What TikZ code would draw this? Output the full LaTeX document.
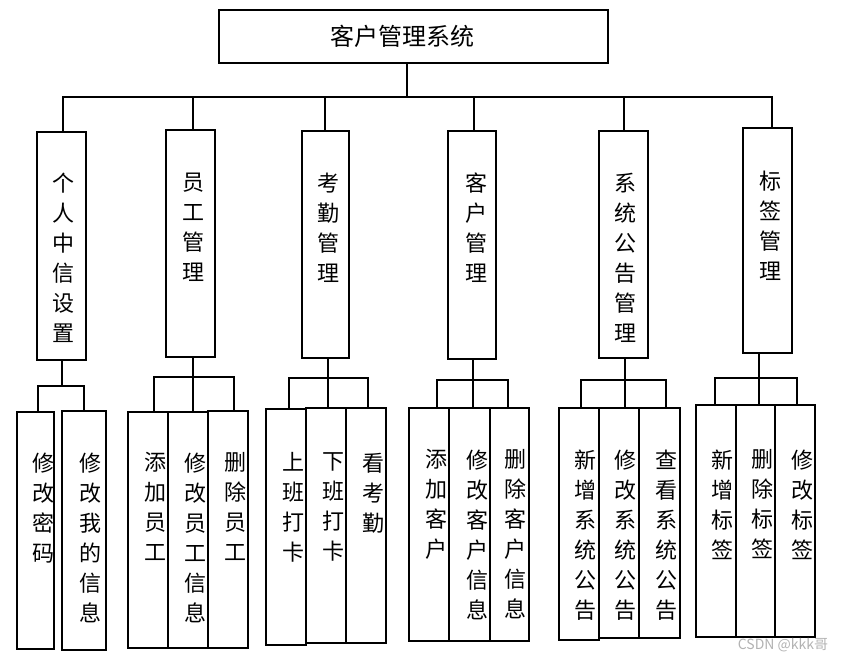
\documentclass[tikz,border=0pt]{standalone}
\usepackage{fontspec}
\setmainfont{Noto Sans CJK SC}
\usepackage{tikz}

\tikzset{
  box/.style={draw, line width=1.5, inner sep=0},
  vtext/.style={align=center, inner sep=0, anchor=north, font=\fontsize{22}{30}\selectfont},
  conn/.style={line width=1.5}
}

\begin{document}
\begin{tikzpicture}[x=1pt, y=-1pt]
\useasboundingbox (0,0) rectangle (841,661);

%root
\node[box, minimum width=389, minimum height=53, font=\fontsize{24}{24}\selectfont] (root) at (413.5, 36.5) {客户管理系统\hspace*{22pt}};
\coordinate (top) at (407, 97);

% level one
\node[box, minimum width=49, minimum height=228] (g1) at (61.5, 246) {};
\node[vtext] (t1) at (63, 172.5) {个\\人\\中\\信\\设\\置};
\node[box, minimum width=49, minimum height=227] (g2) at (190.5, 243.5) {};
\node[vtext] (t2) at (193, 172.5) {员\\工\\管\\理};
\node[box, minimum width=47, minimum height=227] (g3) at (325.5, 244.5) {};
\node[vtext] (t3) at (328, 172.5) {考\\勤\\管\\理};
\node[box, minimum width=48, minimum height=228] (g4) at (472, 245) {};
\node[vtext] (t4) at (476, 172.5) {客\\户\\管\\理};
\node[box, minimum width=49, minimum height=227] (g5) at (623.5, 244.5) {};
\node[vtext] (t5) at (625.5, 172.5) {系\\统\\公\\告\\管\\理};
\node[box, minimum width=49, minimum height=225] (g6) at (767.5, 240.5) {};
\node[vtext] (t6) at (770, 171) {标\\签\\管\\理};

% bus
\draw[conn] (root.south -| top) -- (top);
\draw[conn] ([xshift=1.5]g1.north) |- (top) -| ([xshift=4.5]g6.north);
\foreach \g/\dx in {g2/2.5, g3/-0.5, g4/2, g5/0.5}
  \draw[conn] ([xshift=\dx]\g.north) -- ([xshift=\dx]\g.north |- top);

% personal settings
\node[box, minimum width=37, minimum height=237] (k1a) at (35.5, 530.5) {};
\node[vtext] (t1a) at (43, 452.5) {修\\改\\密\\码};
\node[box, minimum width=44, minimum height=239] (k1b) at (84, 530.5) {};
\node[vtext] (t1b) at (90, 452.5) {修\\改\\我\\的\\信\\息};
\coordinate (b1) at (62, 386);
\draw[conn] (g1.south -| b1) -- (b1);
\draw[conn] ([xshift=2.5]k1a.north) |- (b1) -| (k1b.north);

% staff
\node[box, minimum width=40, minimum height=236] (k2a) at (148, 530) {};
\node[vtext] (t2a) at (155, 452.5) {添\\加\\员\\工};
\node[box, minimum width=40, minimum height=236] (k2b) at (188, 530) {};
\node[vtext] (t2b) at (195, 452.5) {修\\改\\员\\工\\信\\息};
\node[box, minimum width=40, minimum height=237] (k2c) at (228, 529.5) {};
\node[vtext] (t2c) at (235, 452.5) {删\\除\\员\\工};
\coordinate (b2) at (193, 377);
\draw[conn] (g2.south -| b2) -- (b2) -- (b2 |- k2b.north);
\draw[conn] ([xshift=6]k2a.north) |- (b2) -| ([xshift=6]k2c.north);

% attendance
\node[box, minimum width=40, minimum height=236] (k3a) at (286, 527) {};
\node[vtext] (t3a) at (293, 452.5) {上\\班\\打\\卡};
\node[box, minimum width=40, minimum height=235] (k3b) at (326, 525.5) {};
\node[vtext] (t3b) at (333, 452.5) {下\\班\\打\\卡};
\node[box, minimum width=40, minimum height=235] (k3c) at (366, 525.5) {};
\node[vtext] (t3c) at (373, 452.5) {看\\考\\勤};
\coordinate (b3) at (328, 378);
\draw[conn] (g3.south -| b3) -- (b3) -- (b3 |- k3b.north);
\draw[conn] ([xshift=3]k3a.north) |- (b3) -| ([xshift=2]k3c.north);

% customers
\node[box, minimum width=40, minimum height=233] (k4a) at (429, 524.5) {};
\node[vtext] (t4a) at (436.5, 449.5) {添\\加\\客\\户};
\node[box, minimum width=41, minimum height=233] (k4b) at (469.5, 524.5) {};
\node[vtext] (t4b) at (477, 449.5) {修\\改\\客\\户\\信\\息};
\node[box, minimum width=39, minimum height=233] (k4c) at (509.5, 524.5) {};
\node[vtext] (t4c) at (515.5, 449.5) {删\\除\\客\\户\\信\\息};
\coordinate (b4) at (473, 380);
\draw[conn] (g4.south -| b4) -- (b4) -- (b4 |- k4b.north);
\draw[conn] ([xshift=8]k4a.north) |- (b4) -| ([xshift=-1.5]k4c.north);

% notices
\node[box, minimum width=40, minimum height=232] (k5a) at (579, 524) {};
\node[vtext] (t5a) at (585.5, 449.5) {新\\增\\系\\统\\公\\告};
\node[box, minimum width=40, minimum height=230] (k5b) at (619, 523) {};
\node[vtext] (t5b) at (625.5, 449.5) {修\\改\\系\\统\\公\\告};
\node[box, minimum width=41, minimum height=230] (k5c) at (659.5, 523) {};
\node[vtext] (t5c) at (666, 449.5) {查\\看\\系\\统\\公\\告};
\coordinate (b5) at (625, 380);
\draw[conn] (g5.south -| b5) -- (b5) -- (b5 |- k5b.north);
\draw[conn] ([xshift=2]k5a.north) |- (b5) -| ([xshift=6.5]k5c.north);

% tags
\node[box, minimum width=40, minimum height=232] (k6a) at (716, 521) {};
\node[vtext] (t6a) at (722.5, 449.5) {新\\增\\标\\签};
\node[box, minimum width=39, minimum height=232] (k6b) at (755.5, 521) {};
\node[vtext] (t6b) at (762, 449.5) {删\\除\\标\\签};
\node[box, minimum width=40, minimum height=232] (k6c) at (795, 521) {};
\node[vtext] (t6c) at (802, 449.5) {修\\改\\标\\签};
\coordinate (b6) at (759, 378);
\draw[conn] (g6.south -| b6) -- (b6) -- (b6 |- k6b.north);
\draw[conn] ([xshift=-1]k6a.north) |- (b6) -| ([xshift=2]k6c.north);

% watermark
\node[font=\fontsize{14}{14}\selectfont, text=black!30] (mark) at (783, 645) {CSDN @kkk哥};

\end{tikzpicture}
\end{document}
